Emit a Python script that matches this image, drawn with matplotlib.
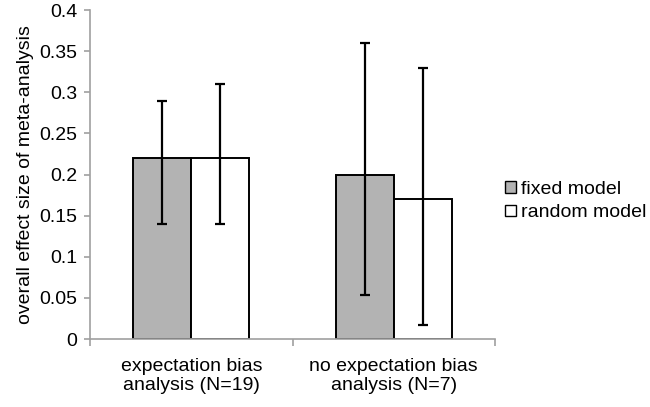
import matplotlib.pyplot as plt
import numpy as np
from matplotlib.ticker import FixedLocator

plt.rcParams['font.family'] = ['Liberation Sans', 'DejaVu Sans']

categories = ['expectation bias\nanalysis (N=19)', 'no expectation bias\nanalysis (N=7)']
series_names = ['fixed model', 'random model']
fixed_vals = [0.22, 0.20]
fixed_low = [0.14, 0.054]
fixed_high = [0.29, 0.36]
random_vals = [0.22, 0.17]
random_low = [0.14, 0.017]
random_high = [0.31, 0.33]
y_ticks = [0, 0.05, 0.1, 0.15, 0.2, 0.25, 0.3, 0.35, 0.4]
y_tick_labels = ['0', '0.05', '0.1', '0.15', '0.2', '0.25', '0.3', '0.35', '0.4']

fig = plt.figure(figsize=(6.5, 4.07), dpi=100)
ax = fig.add_axes([0.1385, 0.167, 0.623, 0.808])

x = np.arange(len(categories))
w = 0.286
grey_axis = '#a0a0a0'

err_kw = dict(ecolor='black', elinewidth=1.6, capsize=3.5, capthick=1.6)
fixed_err = [np.array(fixed_vals) - np.array(fixed_low), np.array(fixed_high) - np.array(fixed_vals)]
random_err = [np.array(random_vals) - np.array(random_low), np.array(random_high) - np.array(random_vals)]

ax.bar(x - w / 2, fixed_vals, w, color='#b3b3b3', edgecolor='black', linewidth=1.4,
       yerr=fixed_err, error_kw=err_kw, label=series_names[0], zorder=2)
ax.bar(x + w / 2, random_vals, w, color='white', edgecolor='black', linewidth=1.4,
       yerr=random_err, error_kw=err_kw, label=series_names[1], zorder=2)

ax.set_xlim(-0.5, 1.5)
ax.set_ylim(0, 0.4)
ax.set_yticks(y_ticks)
ax.set_yticklabels(y_tick_labels)

ax.set_xticks(x)
ax.set_xticklabels(categories, fontsize=14, linespacing=1.15)
ax.xaxis.set_minor_locator(FixedLocator([-0.5, 0.5, 1.5]))
ax.tick_params(axis='x', which='major', length=0, pad=14)
ax.tick_params(axis='x', which='minor', length=5, color=grey_axis, width=1.2)
ax.tick_params(axis='y', length=4, color=grey_axis, width=1.2, labelsize=14, pad=5)

for side in ['top', 'right']:
    ax.spines[side].set_visible(False)
for side in ['left', 'bottom']:
    ax.spines[side].set_color(grey_axis)
    ax.spines[side].set_linewidth(1.2)

ax.set_ylabel('overall effect size of meta-analysis', fontsize=14, labelpad=4)

leg = fig.legend(loc='center left', bbox_to_anchor=(0.777, 0.506), frameon=False,
                 fontsize=14, handlelength=0.55, handleheight=0.55, handletextpad=0.25,
                 labelspacing=0.35, borderaxespad=0, borderpad=0)
for h in leg.legend_handles:
    h.set_linewidth(1.0)

fig.savefig('out.png', dpi=100)
